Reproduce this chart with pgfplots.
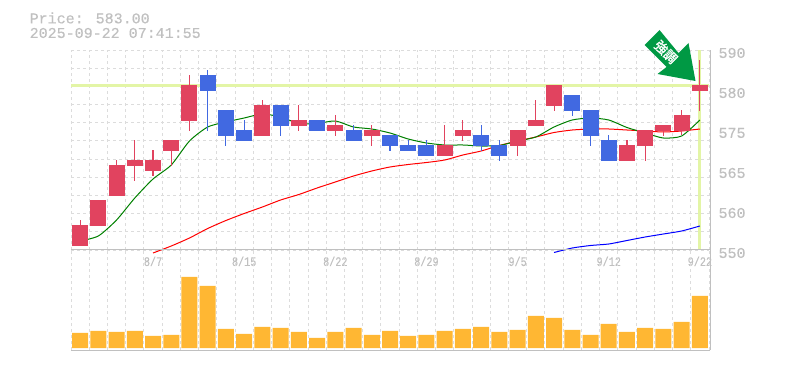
\documentclass[border=0pt]{standalone}
\usepackage{pgfplots}
\usepackage{pgfplotstable}
\pgfplotsset{compat=1.18}
\usepackage{fontspec}
\setmainfont{Liberation Mono}[FakeBold=0.35]
\newfontfamily\cjk{Noto Sans CJK JP}[FakeBold=1.2]
\definecolor{txt}{HTML}{C0C0C0}
\definecolor{gridc}{HTML}{DCDCDC}
\definecolor{upc}{HTML}{E1435F}
\definecolor{dnc}{HTML}{4169E1}
\definecolor{hl}{HTML}{E3F5A6}
\definecolor{volc}{HTML}{FFB733}
\definecolor{arrowc}{HTML}{009944}
\newcommand{\xl}[1]{\scalebox{0.78}[1]{#1}}
\pgfplotstableread{
x low blow bhigh high
0 550.8 550.8 555 556
1 554.8 554.8 560 560
2 560.8 560.8 567 568
3 563.8 566.8 568 572
4 564.8 565.8 568 570
5 566.8 569.8 572 572
6 573.8 575.8 583 585
10 572.8 572.8 579 580
12 573.8 574.8 576 579
14 572.8 573.8 575 577
16 570.8 572.8 574 575
20 568.8 568.8 571 575
21 571.8 572.8 574 576
24 568.8 570.8 574 574
25 574.8 574.8 576 580
26 577.8 578.8 583 583
30 567.8 567.8 571 572
31 567.8 570.8 574 574
32 572.8 573.8 575 575
33 573 573.8 577 578
34 577.8 581.8 583 588
}\upcandles
\pgfplotstableread{
x low blow bhigh high
7 573.8 581.8 585 586
8 570.8 572.8 578 578
9 571.8 571.8 574 576
11 572.8 574.8 579 579
13 573.8 573.8 576 576
15 571.8 571.8 574 575
17 569.8 570.8 573 573
18 569.8 569.8 571 572
19 568.8 568.8 571 572
22 569.8 570.8 573 575
23 567.8 568.8 571 572
27 576.8 577.8 581 581
28 570.8 572.8 578 578
29 567.8 567.8 572 573
}\downcandles
\pgfplotstableread{
x y
0 551.8
1 552.8
2 556
3 560.4
4 564.2
5 567
6 571.8
7 574.6
8 575.6
9 576.4
10 577.2
11 576.6
12 575.3
13 575.3
14 575.8
15 574.6
16 574.2
17 573.4
18 572.2
19 571.4
20 571
21 571
22 570.8
23 570.9
24 571.8
25 572.6
26 574.6
27 576
28 576.4
29 576
30 574.5
31 573.4
32 572.4
33 572.8
34 576
}\mafive
\pgfplotstableread{
x y
4 549.4
5 550.8
6 552.4
7 554.3
8 555.9
9 557.3
10 558.6
11 560
12 561.1
13 562.4
14 563.6
15 564.8
16 565.8
17 566.6
18 567.1
19 567.5
20 568
21 569
22 569.8
23 570.9
24 571.8
25 572.6
26 573.5
27 574
28 574.2
29 574.2
30 574
31 573.8
32 573.6
33 573.8
34 574.2
}\matwentyfive
\pgfplotstableread{
x y
26 549.5
27 550.4
28 550.9
29 551.2
30 551.9
31 552.6
32 553.2
33 553.8
34 554.8
}\maseventyfive
\pgfplotstableread{
x v
0 15
1 17
2 16
3 17
4 12
5 13
6 71
7 62
8 19
9 14
10 21
11 20
12 16
13 10
14 16
15 20
16 13
17 17
18 12
19 13
20 17
21 19
22 21
23 16
24 18
25 32
26 30
27 18
28 13
29 24
30 16
31 20
32 19
33 26
34 52
}\volumes
\begin{document}
\begin{tikzpicture}[x=1pt,y=1pt]
\path[use as bounding box] (0,0) rectangle (785,370);
\pgfplotsset{base/.style={
  scale only axis, width=638pt, anchor=south west,
  xmin=-0.5, xmax=34.5,
  axis line style={draw=none},
  tick style={draw=none},
  xtick={4,9,14,19,24,29,34},
  minor xtick={-0.5,0.5,...,34.5},
  xminorgrids=true,
  minor grid style={gridc,line width=0.9pt,dash pattern=on 3pt off 3pt},
  tick label style={text=txt},
  /pgf/number format/assume math mode=true,
}}
% price axis
\begin{axis}[base,
  at={(71pt,120pt)}, height=200pt,
  ymin=550, ymax=590, clip=false,
  xticklabels={\xl{8/7},\xl{8/15},\xl{8/22},\xl{8/29},\xl{9/5},\xl{9/12},\xl{9/22}},
  x tick label style={font=\fontsize{13}{13}\selectfont,yshift=-3pt},
  ytick={550,558,566,574,582,590},
  yticklabels={550,560,565,575,580,590},
  yticklabel pos=right,
  yminorgrids=true,
  minor ytick={550,553.636,557.273,560.909,564.545,568.182,571.818,575.455,579.091,582.727,586.364,590},
  y tick label style={font=\fontsize{15}{15}\selectfont,anchor=west,xshift=6pt,yshift=-3pt},
]
\addplot[hl,line width=3.4pt,forget plot] coordinates {(-0.5,582.9) (34.5,582.9)};
\addplot[hl,line width=3.2pt,forget plot] coordinates {(34,550) (34,590)};
\addplot[red,line width=1pt,smooth,tension=0.4,forget plot] table[x=x,y=y] {\matwentyfive};
\addplot[blue,line width=1pt,smooth,tension=0.4,forget plot] table[x=x,y=y] {\maseventyfive};
\addplot[green!50!black,line width=1pt,smooth,tension=0.4,forget plot] table[x=x,y=y] {\mafive};
% wicks
\addplot[draw=none,forget plot,
  error bars/.cd,y dir=both,y explicit,error mark=none,
  error bar style={upc,line width=1.1pt}]
  table[x=x,y=low,y error plus expr=\thisrow{high}-\thisrow{low},y error minus expr=0] {\upcandles};
\addplot[draw=none,forget plot,
  error bars/.cd,y dir=both,y explicit,error mark=none,
  error bar style={dnc,line width=1.1pt}]
  table[x=x,y=low,y error plus expr=\thisrow{high}-\thisrow{low},y error minus expr=0] {\downcandles};
% bodies
\addplot[draw=none,forget plot,
  error bars/.cd,y dir=both,y explicit,error mark=none,
  error bar style={upc,line width=16pt}]
  table[x=x,y=blow,y error plus expr=\thisrow{bhigh}-\thisrow{blow},y error minus expr=0] {\upcandles};
\addplot[draw=none,forget plot,
  error bars/.cd,y dir=both,y explicit,error mark=none,
  error bar style={dnc,line width=16pt}]
  table[x=x,y=blow,y error plus expr=\thisrow{bhigh}-\thisrow{blow},y error minus expr=0] {\downcandles};
\end{axis}
% volume axis
\begin{axis}[base,
  at={(71pt,20pt)}, height=100pt,
  ymin=-2, ymax=98, ytick=\empty,
  xticklabels={},
  ybar, bar width=16pt, bar shift=0pt,
]
\addplot[fill=volc,draw=none,forget plot] table[x=x,y=v] {\volumes};
\end{axis}
% frame
\draw[txt,line width=1pt] (71,120) -- (710,120) (71,20) -- (710,20) (710,20) -- (710,320);
% labels
\node[anchor=west,inner sep=0pt,text=txt,font=\fontsize{15}{15}\selectfont] at (29.5,352) {Price: 583.00};
\node[anchor=west,inner sep=0pt,text=txt,font=\fontsize{15}{15}\selectfont] at (29.5,337) {2025-09-22 07:41:55};
% badge
\fill[arrowc] (659.5,340) -- (644.5,325) -- (666.5,303) -- (657.5,296) -- (695.5,289) -- (688.5,327) -- (678.5,317) -- cycle;
\node[text=white,rotate=-45,inner sep=0pt,font=\cjk\fontsize{13}{13}\selectfont] at (666,318) {強調};
\end{tikzpicture}
\end{document}
